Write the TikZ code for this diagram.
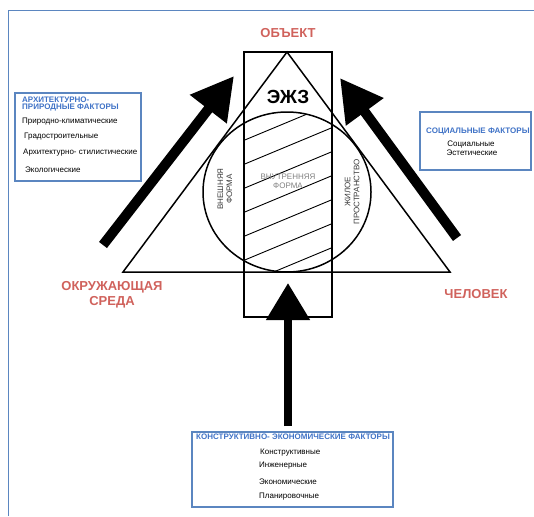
\documentclass[tikz,border=0pt]{standalone}
\usepackage{fontspec}
\setmainfont{Liberation Sans}
\definecolor{frameblue}{HTML}{5B86C0}
\definecolor{titleblue}{HTML}{3F72C6}
\definecolor{polered}{HTML}{D0625C}
\definecolor{inkgray}{HTML}{3A3A3A}
\usetikzlibrary{arrows.meta}
\tikzset{
  factorbox/.style={draw=frameblue, line width=1.3pt, inner sep=0pt},
  ftitle/.style={font=\bfseries\fontsize{8}{9}\selectfont, text=titleblue, inner sep=0pt},
  item/.style={font=\fontsize{8}{9}\selectfont, inner sep=0pt},
  pole/.style={font=\bfseries\fontsize{13}{15}\selectfont, text=polered, align=center, inner sep=0pt},
  zone/.style={font=\fontsize{8}{9}\selectfont, text=inkgray, align=center, inner sep=0pt},
  shapeline/.style={draw=black, line width=1.5pt},
  hatch/.style={line width=0.9pt},
  bigarrow/.style={line width=10pt, -{Triangle[length=42pt,width=44pt]}},
}
\begin{document}
\begin{tikzpicture}[x=1pt,y=-1pt]
\useasboundingbox (0,0) rectangle (534,516);
\draw[draw=frameblue, line width=1pt] (8,516) -- (8,11) -- (534,11);

% triangle, rectangle, circle
\coordinate (apex) at (287,52);
\coordinate (bl) at (123,272);
\coordinate (br) at (450,272);
\draw[shapeline] (apex) -- (bl) -- (br) -- cycle;
\node[shapeline, minimum width=88pt, minimum height=265pt, inner sep=0pt] (ezz) at (288,184.5) {};
\begin{scope}
  \clip (244,52) rectangle (332,317);
  \clip (287,192) ellipse (84 and 80);
  \foreach \c in {70,94,...,330} \draw[hatch] (240,\c) -- (336,\c-40);
\end{scope}
\draw[shapeline] (287,192) ellipse (84 and 80);

\node[font=\bfseries\fontsize{19}{21}\selectfont] (ezzlbl) at (288,97) {ЭЖЗ};
\node[zone, rotate=90] (outer) at (225,189) {ВНЕШНЯЯ\\ФОРМА};
\node[zone, text=gray] (inner) at (288,181) {ВНУТРЕННЯЯ\\ФОРМА};
\node[zone, rotate=90] (living) at (352,192) {ЖИЛОЕ\\ПРОСТРАНСТВО};

% poles
\node[pole] (obj) at (288,33) {ОБЪЕКТ};
\node[pole] (env) at (112,295) {ОКРУЖАЮЩАЯ\\СРЕДА};
\node[pole] (man) at (476,294) {ЧЕЛОВЕК};

% arrows
\coordinate (ltail) at (103,245); \coordinate (ltip) at (234,76);
\coordinate (rtail) at (457,238); \coordinate (rtip) at (340,78);
\coordinate (btail) at (288,426); \coordinate (btip) at (288,283);
\draw[bigarrow] (ltail) -- (ltip);
\draw[bigarrow] (rtail) -- (rtip);
\draw[bigarrow, line width=8pt, -{Triangle[length=37pt,width=42pt]}] (btail) -- (btip);

% factor boxes
\node[factorbox, minimum width=126pt, minimum height=88pt] (natbox) at (78,137) {};
\node[ftitle, anchor=west] (nattitle) at (22,100) {АРХИТЕКТУРНО-};
\node[ftitle, anchor=west] (nattitle2) at (22,108) {ПРИРОДНЫЕ ФАКТОРЫ};
\node[item, anchor=west] (nat1) at (22,122) {Природно-климатические};
\node[item, anchor=west] (nat2) at (24,137) {Градостроительные};
\node[item, anchor=west] (nat3) at (23,153) {Архитектурно- стилистические};
\node[item, anchor=west] (nat4) at (25,170) {Экологические};

\node[factorbox, minimum width=111pt, minimum height=58pt] (socbox) at (475.5,141) {};
\node[ftitle, anchor=west] (soctitle) at (426,132) {СОЦИАЛЬНЫЕ ФАКТОРЫ};
\node[item] (soc1) at (471,145) {Социальные};
\node[item] (soc2) at (472,153) {Эстетические};

\node[factorbox, minimum width=201pt, minimum height=75pt] (conbox) at (292.5,469.5) {};
\node[ftitle, anchor=west] (contitle) at (196,437) {КОНСТРУКТИВНО- ЭКОНОМИЧЕСКИЕ ФАКТОРЫ};
\node[item, anchor=west] (con1) at (260,453) {Конструктивные};
\node[item, anchor=west] (con2) at (259,466) {Инженерные};
\node[item, anchor=west] (con3) at (259,482) {Экономические};
\node[item, anchor=west] (con4) at (259,497) {Планировочные};
\end{tikzpicture}
\end{document}
